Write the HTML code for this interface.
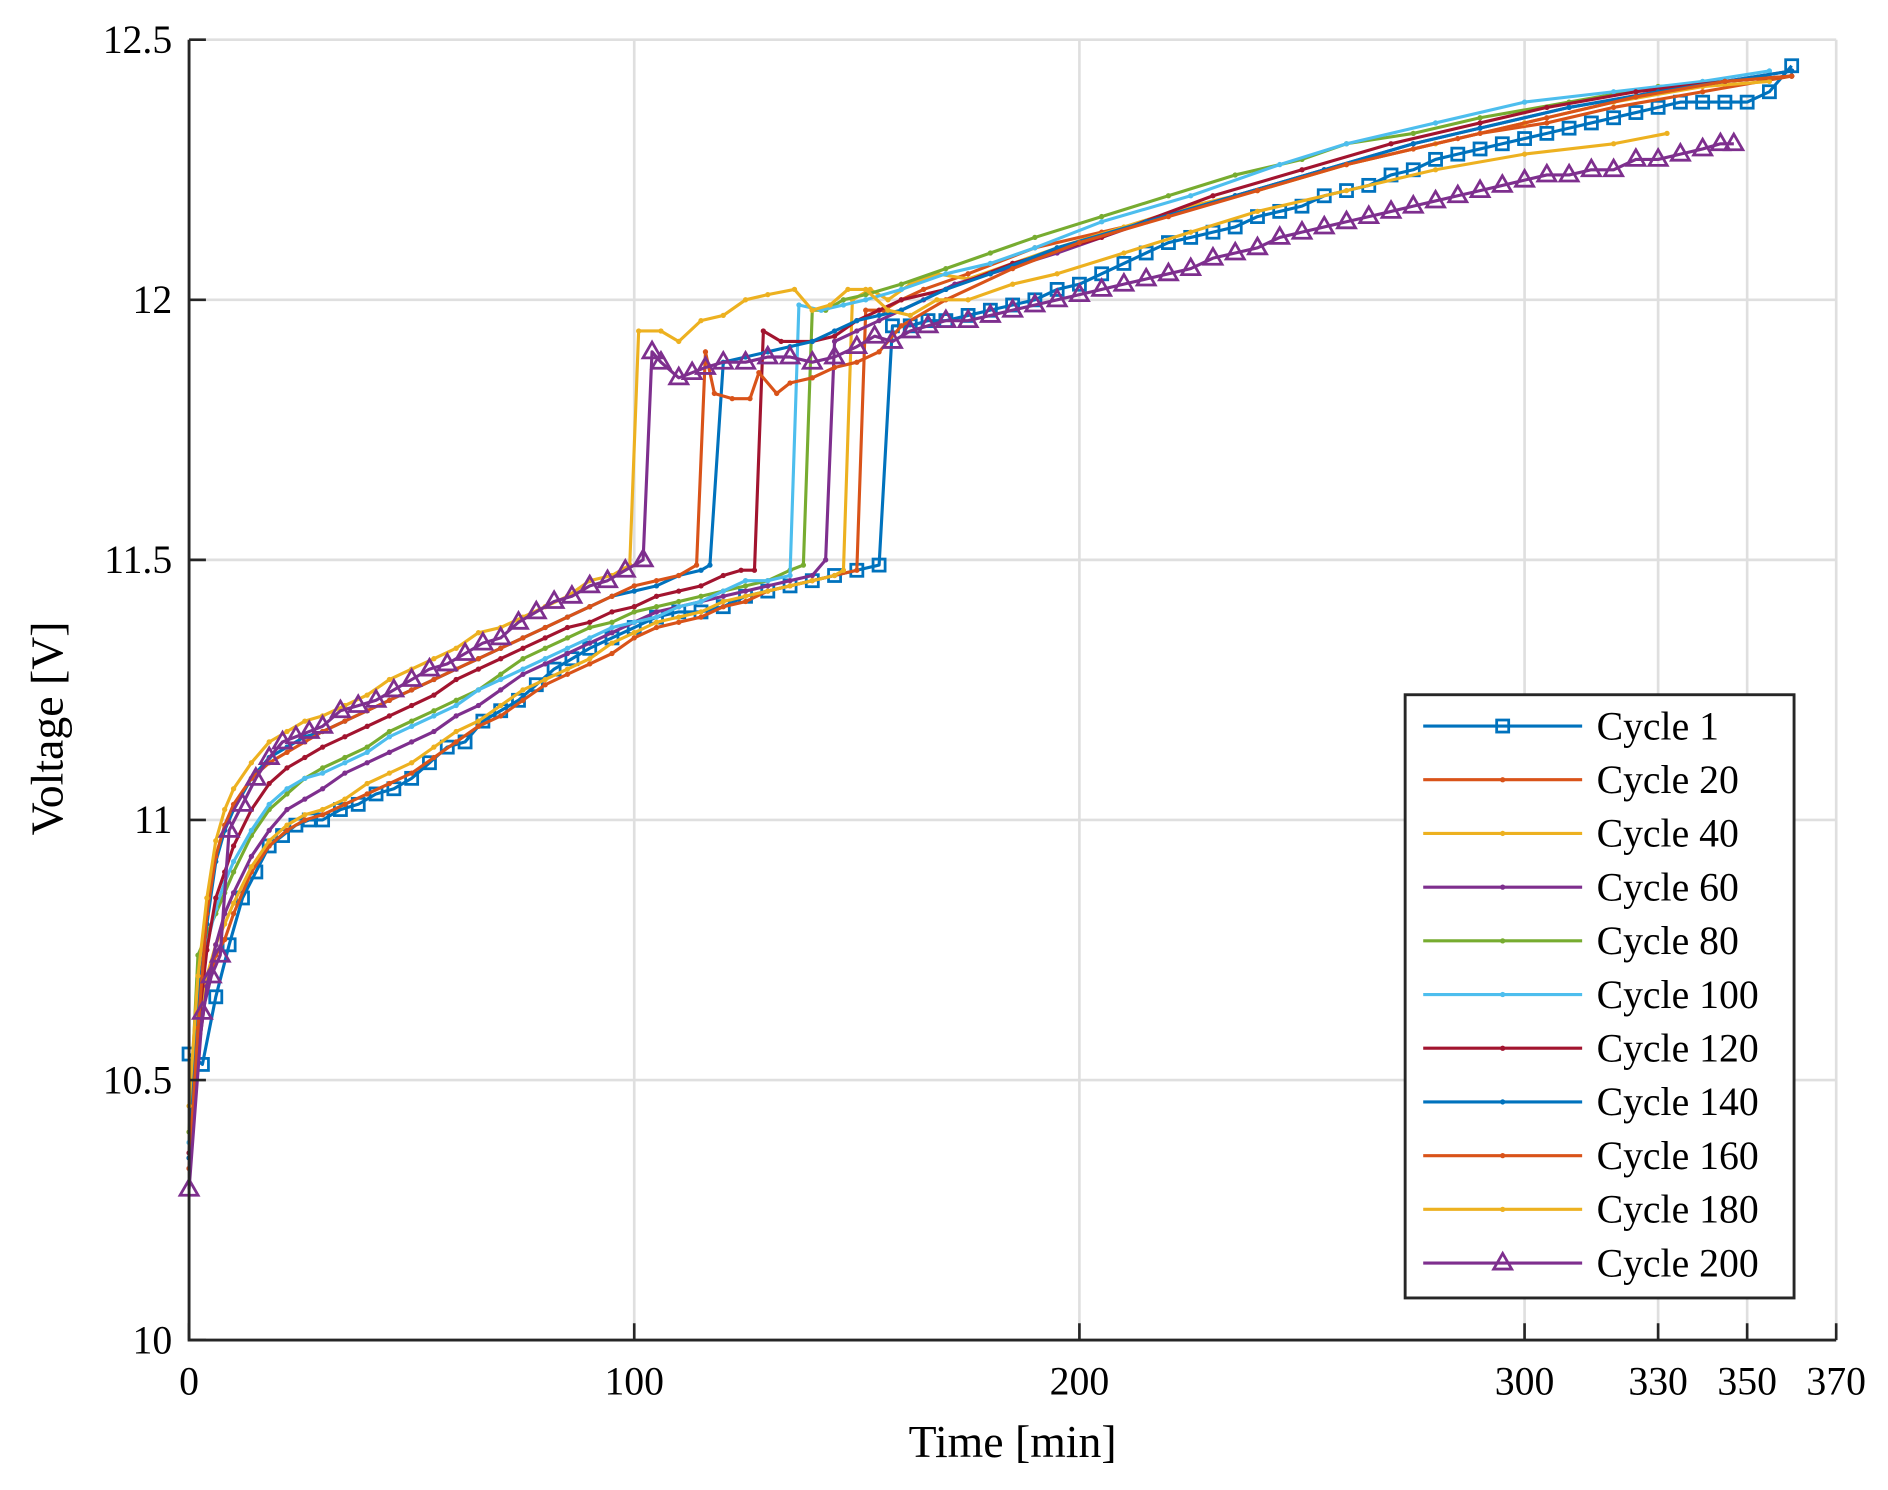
<!DOCTYPE html>
<html><head><meta charset="utf-8"><style>
html,body{margin:0;padding:0;background:#fff;}
svg{display:block;}
text{font-family:"Liberation Serif",serif;fill:#000;}
</style></head><body>
<svg id="chart" width="1888" height="1490" viewBox="0 0 1568 1237.5" xmlns="http://www.w3.org/2000/svg">
<rect x="0" y="0" width="1568" height="1237.5" fill="#fff"/>
<g id="grid"></g>
<g id="series"></g>
<g id="axes"></g>
<g id="legend"></g>
<text x="841" y="1210" font-size="38" text-anchor="middle">Time [min]</text>
<text x="0" y="0" font-size="38" text-anchor="middle" transform="translate(52,605) rotate(-90)">Voltage [V]</text>
</svg>
<script>
const xTicks=[0,100,200,300,330,350,370];
const yTicks=[10,10.5,11,11.5,12,12.5];
const yTickLabels=["10","10.5","11","11.5","12","12.5"];
const seriesNames=["Cycle 1","Cycle 20","Cycle 40","Cycle 60","Cycle 80","Cycle 100","Cycle 120","Cycle 140","Cycle 160","Cycle 180","Cycle 200"];
const cycle1=[[0,10.55],[3,10.53],[6,10.66],[9,10.76],[12,10.85],[15,10.90],[18,10.95],[21,10.97],[24,10.99],[27,11.00],[30,11.00],[34,11.02],[38,11.03],[42,11.05],[46,11.06],[50,11.08],[54,11.11],[58,11.14],[62,11.15],[66,11.19],[70,11.21],[74,11.23],[78,11.26],[82,11.29],[86,11.31],[90,11.33],[95,11.35],[100,11.37],[105,11.39],[110,11.40],[115,11.40],[120,11.41],[125,11.43],[130,11.44],[135,11.45],[140,11.46],[145,11.47],[150,11.48],[155,11.49],[158,11.95],[162,11.95],[166,11.96],[170,11.96],[175,11.97],[180,11.98],[185,11.99],[190,12.00],[195,12.02],[200,12.03],[205,12.05],[210,12.07],[215,12.09],[220,12.11],[225,12.12],[230,12.13],[235,12.14],[240,12.16],[245,12.17],[250,12.18],[255,12.20],[260,12.21],[265,12.22],[270,12.24],[275,12.25],[280,12.27],[285,12.28],[290,12.29],[295,12.30],[300,12.31],[305,12.32],[310,12.33],[315,12.34],[320,12.35],[325,12.36],[330,12.37],[335,12.38],[340,12.38],[345,12.38],[350,12.38],[355,12.40],[360,12.45]];
const cycle200=[[0,10.29],[3,10.63],[5,10.70],[7,10.74],[9,10.98],[12,11.03],[15,11.08],[18,11.12],[21,11.15],[24,11.16],[27,11.17],[30,11.18],[34,11.21],[38,11.22],[42,11.23],[46,11.25],[50,11.27],[54,11.29],[58,11.30],[62,11.32],[66,11.34],[70,11.35],[74,11.38],[78,11.40],[82,11.42],[86,11.43],[90,11.45],[94,11.46],[98,11.48],[102,11.50],[104,11.90],[106,11.88],[110,11.85],[113,11.86],[116,11.87],[120,11.88],[125,11.88],[130,11.89],[135,11.89],[140,11.88],[145,11.89],[150,11.91],[154,11.93],[158,11.92],[162,11.94],[166,11.95],[170,11.96],[175,11.96],[180,11.97],[185,11.98],[190,11.99],[195,12.00],[200,12.01],[205,12.02],[210,12.03],[215,12.04],[220,12.05],[225,12.06],[230,12.08],[235,12.09],[240,12.10],[245,12.12],[250,12.13],[255,12.14],[260,12.15],[265,12.16],[270,12.17],[275,12.18],[280,12.19],[285,12.20],[290,12.21],[295,12.22],[300,12.23],[305,12.24],[310,12.24],[315,12.25],[320,12.25],[325,12.27],[330,12.27],[335,12.28],[340,12.29],[344,12.30],[347,12.30]];
const cycle20=[[0,10.35],[2,10.55],[4,10.68],[6,10.74],[8,10.77],[10,10.82],[14,10.9],[18,10.95],[22,10.98],[26,11.0],[30,11.01],[35,11.03],[40,11.05],[45,11.07],[50,11.09],[55,11.12],[60,11.15],[65,11.18],[70,11.2],[75,11.23],[80,11.26],[85,11.28],[90,11.3],[95,11.32],[100,11.35],[105,11.37],[110,11.38],[115,11.39],[120,11.41],[125,11.42],[130,11.44],[135,11.45],[140,11.46],[145,11.47],[150,11.48],[152,11.98],[156,11.98],[160,12.0],[165,12.02],[175,12.05],[190,12.1],[205,12.13],[215,12.15],[235,12.2],[255,12.25],[275,12.29],[290,12.32],[305,12.34],[320,12.37],[340,12.4],[360,12.43]];
const cycle40=[[0,10.4],[2,10.6],[4,10.7],[6,10.76],[8,10.8],[10,10.84],[14,10.91],[18,10.96],[22,10.99],[26,11.01],[30,11.02],[35,11.04],[40,11.07],[45,11.09],[50,11.11],[55,11.14],[60,11.17],[65,11.19],[70,11.22],[75,11.25],[80,11.27],[85,11.29],[90,11.31],[95,11.34],[100,11.36],[105,11.38],[110,11.39],[115,11.40],[120,11.42],[125,11.43],[130,11.44],[135,11.45],[140,11.46],[145,11.47],[147,11.48],[149,12.0],[153,12.02],[157,12.0],[162,12.03],[168,12.05],[175,12.04],[185,12.07],[195,12.1],[210,12.14],[225,12.18],[240,12.21],[260,12.26],[280,12.3],[300,12.34],[320,12.38],[340,12.41],[355,12.42]];
const cycle60=[[0,10.33],[2,10.55],[4,10.68],[6,10.76],[8,10.82],[10,10.86],[14,10.93],[18,10.98],[22,11.02],[26,11.04],[30,11.06],[35,11.09],[40,11.11],[45,11.13],[50,11.15],[55,11.17],[60,11.2],[65,11.22],[70,11.25],[75,11.28],[80,11.3],[85,11.32],[90,11.34],[95,11.36],[100,11.38],[105,11.4],[110,11.41],[115,11.42],[120,11.43],[125,11.44],[130,11.45],[135,11.46],[140,11.47],[143,11.5],[145,11.92],[150,11.94],[155,11.96],[160,11.98],[165,12.0],[172,12.03],[180,12.05],[195,12.09],[215,12.15],[235,12.2],[255,12.25],[275,12.3],[290,12.33],[310,12.37],[330,12.4],[345,12.42],[360,12.44]];
const cycle80=[[0,10.4],[2,10.74],[4,10.78],[6,10.82],[8,10.86],[10,10.9],[14,10.97],[18,11.02],[22,11.05],[26,11.08],[30,11.1],[35,11.12],[40,11.14],[45,11.17],[50,11.19],[55,11.21],[60,11.23],[65,11.25],[70,11.28],[75,11.31],[80,11.33],[85,11.35],[90,11.37],[95,11.38],[100,11.4],[105,11.41],[110,11.42],[115,11.43],[120,11.44],[125,11.45],[130,11.46],[135,11.48],[138,11.49],[140,11.98],[143,11.98],[147,12.0],[152,12.01],[160,12.03],[170,12.06],[180,12.09],[190,12.12],[205,12.16],[220,12.2],[235,12.24],[250,12.27],[260,12.3],[275,12.32],[290,12.35],[310,12.38],[330,12.41],[345,12.42],[360,12.43]];
const cycle100=[[0,10.38],[2,10.65],[4,10.76],[6,10.83],[8,10.88],[10,10.92],[14,10.98],[18,11.03],[22,11.06],[26,11.08],[30,11.09],[35,11.11],[40,11.13],[45,11.16],[50,11.18],[55,11.2],[60,11.22],[65,11.25],[70,11.27],[75,11.29],[80,11.31],[85,11.33],[90,11.35],[95,11.37],[100,11.38],[105,11.39],[110,11.41],[115,11.42],[120,11.44],[125,11.46],[130,11.46],[135,11.47],[137,11.99],[142,11.98],[147,11.99],[152,12.0],[160,12.02],[170,12.05],[180,12.07],[190,12.1],[205,12.15],[225,12.2],[245,12.26],[260,12.3],[280,12.34],[300,12.38],[320,12.4],[340,12.42],[355,12.44]];
const cycle120=[[0,10.36],[2,10.6],[4,10.75],[6,10.85],[8,10.9],[10,10.95],[14,11.02],[18,11.07],[22,11.1],[26,11.12],[30,11.14],[35,11.16],[40,11.18],[45,11.2],[50,11.22],[55,11.24],[60,11.27],[65,11.29],[70,11.31],[75,11.33],[80,11.35],[85,11.37],[90,11.38],[95,11.4],[100,11.41],[105,11.43],[110,11.44],[115,11.45],[120,11.47],[124,11.48],[127,11.48],[129,11.94],[133,11.92],[140,11.92],[145,11.93],[150,11.96],[155,11.98],[160,12.0],[170,12.02],[185,12.07],[205,12.12],[230,12.2],[250,12.25],[270,12.3],[290,12.34],[305,12.37],[325,12.4],[345,12.42],[360,12.43]];
const cycle140=[[0,10.35],[2,10.65],[4,10.8],[6,10.92],[8,10.98],[10,11.02],[14,11.08],[18,11.12],[22,11.14],[26,11.16],[30,11.17],[35,11.19],[40,11.21],[45,11.23],[50,11.25],[55,11.27],[60,11.29],[65,11.31],[70,11.33],[75,11.35],[80,11.37],[85,11.39],[90,11.41],[95,11.43],[100,11.44],[105,11.45],[110,11.47],[115,11.48],[117,11.49],[120,11.88],[125,11.89],[130,11.9],[135,11.91],[140,11.92],[145,11.94],[150,11.96],[155,11.97],[160,11.98],[170,12.02],[180,12.05],[195,12.1],[215,12.15],[235,12.2],[255,12.25],[275,12.3],[290,12.33],[310,12.37],[330,12.4],[345,12.42],[360,12.44]];
const cycle160=[[0,10.33],[2,10.6],[4,10.82],[6,10.93],[8,10.99],[10,11.03],[14,11.08],[18,11.11],[22,11.13],[26,11.15],[30,11.17],[35,11.19],[40,11.21],[45,11.23],[50,11.25],[55,11.27],[60,11.29],[65,11.31],[70,11.33],[75,11.35],[80,11.37],[85,11.39],[90,11.41],[95,11.43],[100,11.45],[105,11.46],[110,11.47],[114,11.49],[116,11.9],[118,11.82],[122,11.81],[126,11.81],[128,11.86],[132,11.82],[135,11.84],[140,11.85],[145,11.87],[150,11.88],[155,11.9],[160,11.95],[170,12.0],[185,12.06],[200,12.11],[220,12.16],[240,12.21],[260,12.26],[285,12.31],[305,12.35],[325,12.39],[345,12.42],[360,12.43]];
const cycle180=[[0,10.45],[2,10.7],[4,10.85],[6,10.96],[8,11.02],[10,11.06],[14,11.11],[18,11.15],[22,11.17],[26,11.19],[30,11.2],[35,11.22],[40,11.24],[45,11.27],[50,11.29],[55,11.31],[60,11.33],[65,11.36],[70,11.37],[75,11.39],[80,11.41],[85,11.43],[90,11.46],[95,11.47],[99,11.49],[101,11.94],[106,11.94],[110,11.92],[115,11.96],[120,11.97],[125,12.0],[130,12.01],[136,12.02],[140,11.98],[144,11.99],[148,12.02],[152,12.02],[157,11.98],[162,11.97],[168,12.0],[175,12.0],[185,12.03],[195,12.05],[210,12.09],[225,12.13],[240,12.17],[260,12.21],[280,12.25],[300,12.28],[320,12.3],[332,12.32]];

const NS="http://www.w3.org/2000/svg";
const X0=157,X1=1525,Y0=1113,Y1=33;
function xs(t){return X0+(t/370)*(X1-X0);}
function ys(v){return Y0-(v-10)/2.5*(Y0-Y1);}
function mk(tag,attrs,parent){const e=document.createElementNS(NS,tag);for(const k in attrs)e.setAttribute(k,attrs[k]);parent.appendChild(e);return e;}
const grid=document.getElementById('grid'),axes=document.getElementById('axes'),sg=document.getElementById('series'),lg=document.getElementById('legend');
xTicks.forEach(t=>{const l=mk('line',{x1:xs(t),x2:xs(t),y1:Y1,y2:Y0,stroke:'#dfdfdf','stroke-width':2.2},grid);


const tk=mk('line',{x1:xs(t),x2:xs(t),y1:Y0,y2:Y0-14,stroke:'#262626','stroke-width':2.2},axes);


const tx=mk('text',{x:xs(t),y:Y0+45,'font-size':33,'text-anchor':'middle'},axes);tx.textContent=String(t);

});
yTicks.forEach((v,i)=>{if(i>0){const l=mk('line',{x1:X0,x2:X1,y1:ys(v),y2:ys(v),stroke:'#dfdfdf','stroke-width':2.2},grid);

}
const tk=mk('line',{x1:X0,x2:X0+14,y1:ys(v),y2:ys(v),stroke:'#262626','stroke-width':2.2},axes);


const tx=mk('text',{x:X0-14,y:ys(v)+11,'font-size':33,'text-anchor':'end'},axes);tx.textContent=yTickLabels[i];

});
const ax=mk('path',{d:`M${X0},${Y1}V${Y0}H${X1}`,fill:'none',stroke:'#262626','stroke-width':2.4},axes);



const seriesData=[cycle1,cycle20,cycle40,cycle60,cycle80,cycle100,cycle120,cycle140,cycle160,cycle180,cycle200];
const colors=['#0072BD','#D95319','#EDB120','#7E2F8E','#77AC30','#4DBEEE','#A2142F','#0072BD','#D95319','#EDB120','#7E2F8E'];
const markers=['square','dot','dot','dot','dot','dot','dot','dot','dot','dot','triangle'];
function drawMarker(kind,x,y,c,parent){
 if(kind==='square'){return mk('rect',{x:x-5,y:y-5,width:10,height:10,fill:'none',stroke:c,'stroke-width':2.3},parent);}
 if(kind==='triangle'){return mk('path',{d:`M${x},${y-8}L${x+7.5},${y+5}L${x-7.5},${y+5}Z`,fill:'none',stroke:c,'stroke-width':2.3},parent);}
 return mk('circle',{cx:x,cy:y,r:2.2,fill:c},parent);
}
seriesData.forEach((d,i)=>{
 const g=mk('g',{},sg);
 
 
 const p=mk('path',{d:d.map((pt,j)=>(j?'L':'M')+xs(pt[0]).toFixed(1)+','+ys(pt[1]).toFixed(1)).join(''),fill:'none',stroke:colors[i],'stroke-width':2.6,'stroke-linejoin':'round'},g);
 
 
 d.forEach(pt=>{const m=drawMarker(markers[i],xs(pt[0]),ys(pt[1]),colors[i],g);
 
 });
});
const box=mk('rect',{x:1167,y:577,width:323,height:501,fill:'#fff',stroke:'#262626','stroke-width':2.4},lg);


seriesNames.forEach((n,i)=>{
 const y=603+i*44.6;
 const g=mk('g',{},lg);
 
 
 mk('line',{x1:1182,x2:1314,y1:y,y2:y,stroke:colors[i],'stroke-width':2.6},g);
 drawMarker(markers[i],1248,y,colors[i],g);
 const t=mk('text',{x:1326,y:y+11,'font-size':33},g);t.textContent=n;
});
</script>
</body></html>
